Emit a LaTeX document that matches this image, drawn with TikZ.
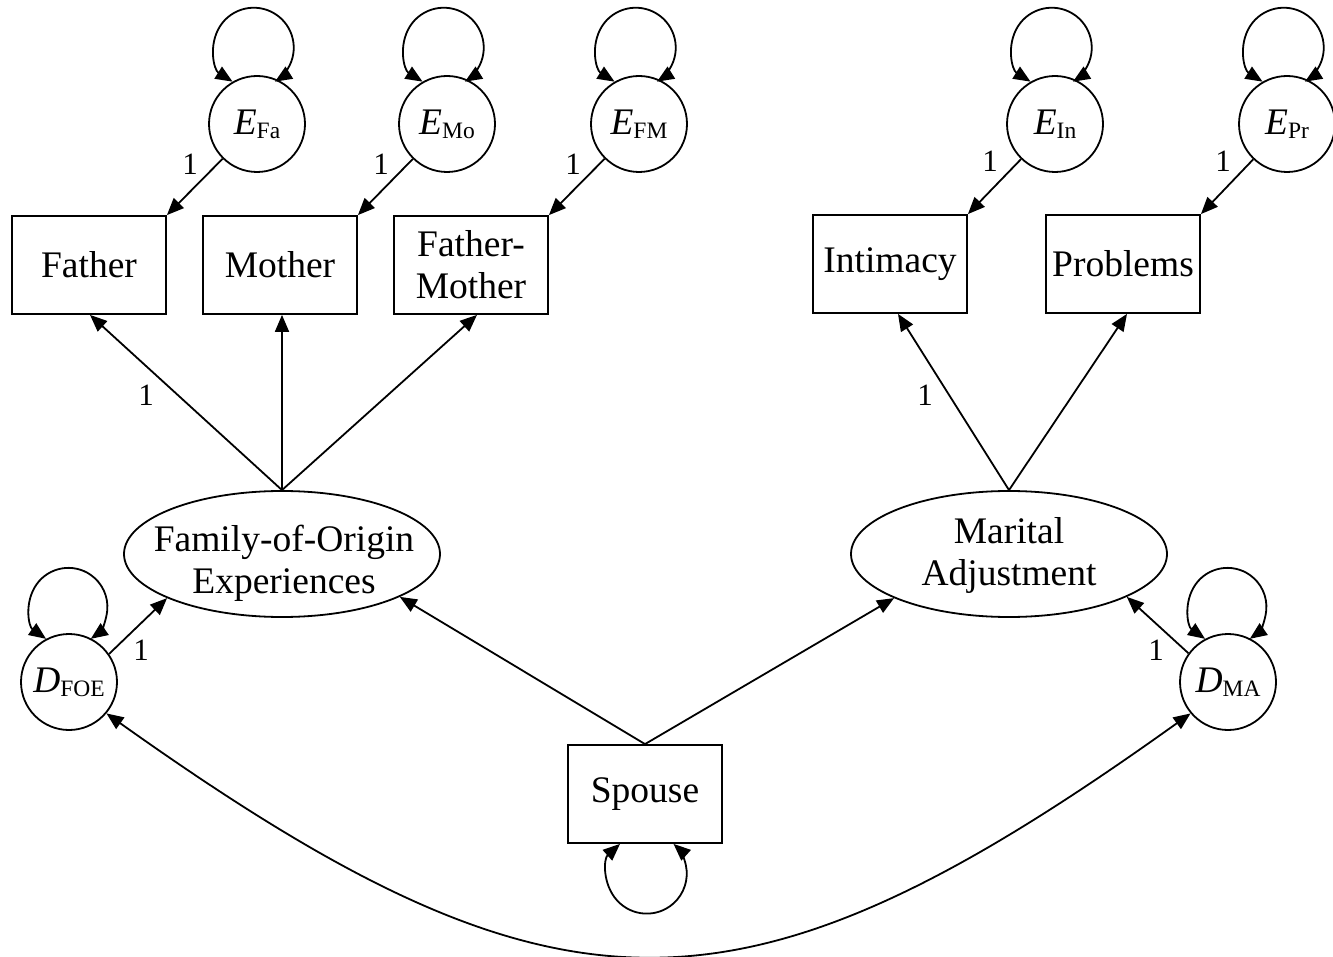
\documentclass[tikz,border=0pt]{standalone}
\usepackage{fontspec}
\setmainfont{Liberation Serif}
\usetikzlibrary{arrows.meta,shapes.geometric}
\newcommand\subv[2]{\textit{#1}\raisebox{-4pt}{\fontsize{23.5}{23.5}\selectfont #2}}
\begin{document}
\begin{tikzpicture}[x=1pt,y=-1pt,
  every node/.style={font=\fontsize{37.5}{42}\selectfont},
  obs/.style={draw,line width=1.8pt,minimum width=154pt,minimum height=98pt,inner sep=0pt,align=center},
  lat/.style={draw,ellipse,line width=1.8pt,minimum width=316pt,minimum height=126pt,inner sep=0pt},
  lattext/.style={align=center,inner sep=0pt},
  err/.style={draw,circle,line width=1.8pt,minimum size=96pt,inner sep=0pt},
  arr/.style={line width=1.8pt,-{Triangle[length=17pt,width=14pt]}},
  cova/.style={line width=1.8pt,{Triangle[length=17pt,width=14pt]}-{Triangle[length=17pt,width=14pt]}},
  one/.style={font=\fontsize{31}{31}\selectfont,inner sep=0pt}]
\useasboundingbox[fill=white] (0,0) rectangle (1333,957);

% observed variables
\node[obs] (father) at (89,265) {Father};
\node[obs] (mother) at (280,265) {Mother};
\node[obs] (fm) at (471,265) {Father-\\Mother};
\node[obs] (int) at (890,264) {Intimacy};
\node[obs] (prob) at (1123,264) {Problems};
\node[obs] (spouse) at (645,794) {Spouse};

% latent variables
\node[lat] (foe) at (282,554) {};
\node[lattext] (foet) at (284,563) {Family-of-Origin\\Experiences};
\node[lat] (ma) at (1009,554) {};
\node[lattext] (mat) at (1009,555) {Marital\\Adjustment};

% errors and disturbances
\node[err] (efa) at (257,124) {\subv{E}{Fa}};
\node[err] (emo) at (447,124) {\subv{E}{Mo}};
\node[err] (efm) at (639,124) {\subv{E}{FM}};
\node[err] (ein) at (1055,124) {\subv{E}{In}};
\node[err] (epr) at (1287,124) {\subv{E}{Pr}};
\node[err] (dfoe) at (69,682) {\subv{D}{FOE}};
\node[err] (dma) at (1228,682) {\subv{D}{MA}};

% error paths
\draw[arr] (efa) -- (father.north east);
\draw[arr] (emo) -- (mother.north east);
\draw[arr] (efm) -- (fm.north east);
\draw[arr] (ein) -- (int.north east);
\draw[arr] (epr) -- (prob.north east);

% loadings
\draw[arr] (foe.north) -- ([xshift=1pt]father.south);
\draw[arr] (foe.north) -- ([xshift=2pt]mother.south);
\draw[arr] (foe.north) -- ([xshift=6pt]fm.south);
\draw[arr] (ma.north) -- ([xshift=8pt]int.south);
\draw[arr] (ma.north) -- ([xshift=4pt]prob.south);

% structural paths
\draw[arr] (dfoe.35) -- (foe.201);
\draw[arr] (dma.144) -- (ma.340);
\draw[arr] (spouse.north) -- (foe.-20);
\draw[arr] (spouse.north) -- (ma.201);

% variances
\foreach \n in {efa,emo,efm,ein,epr}{
  \draw[cova] (\n.120) arc[start angle=238, end angle=-58, radius=40pt];
}
\foreach \n in {dfoe,dma}{
  \draw[cova] (\n.118) arc[start angle=235, end angle=-55, radius=39pt];
}
\draw[cova] ([xshift=-25pt]spouse.south) arc[start angle=132, end angle=408, radius=40pt];

% covariance between disturbances
\draw[cova] (dfoe.-40) .. controls (560,1036) and (740,1036) .. (dma.-140);

% labels
\node[one] (l1) at (190,164) {1};
\node[one] (l2) at (381,164) {1};
\node[one] (l3) at (573,164) {1};
\node[one] (l4) at (990,161) {1};
\node[one] (l5) at (1223,161) {1};
\node[one] (l6) at (146,395) {1};
\node[one] (l7) at (925,395) {1};
\node[one] (l8) at (141,650) {1};
\node[one] (l9) at (1156,650) {1};
\end{tikzpicture}
\end{document}
